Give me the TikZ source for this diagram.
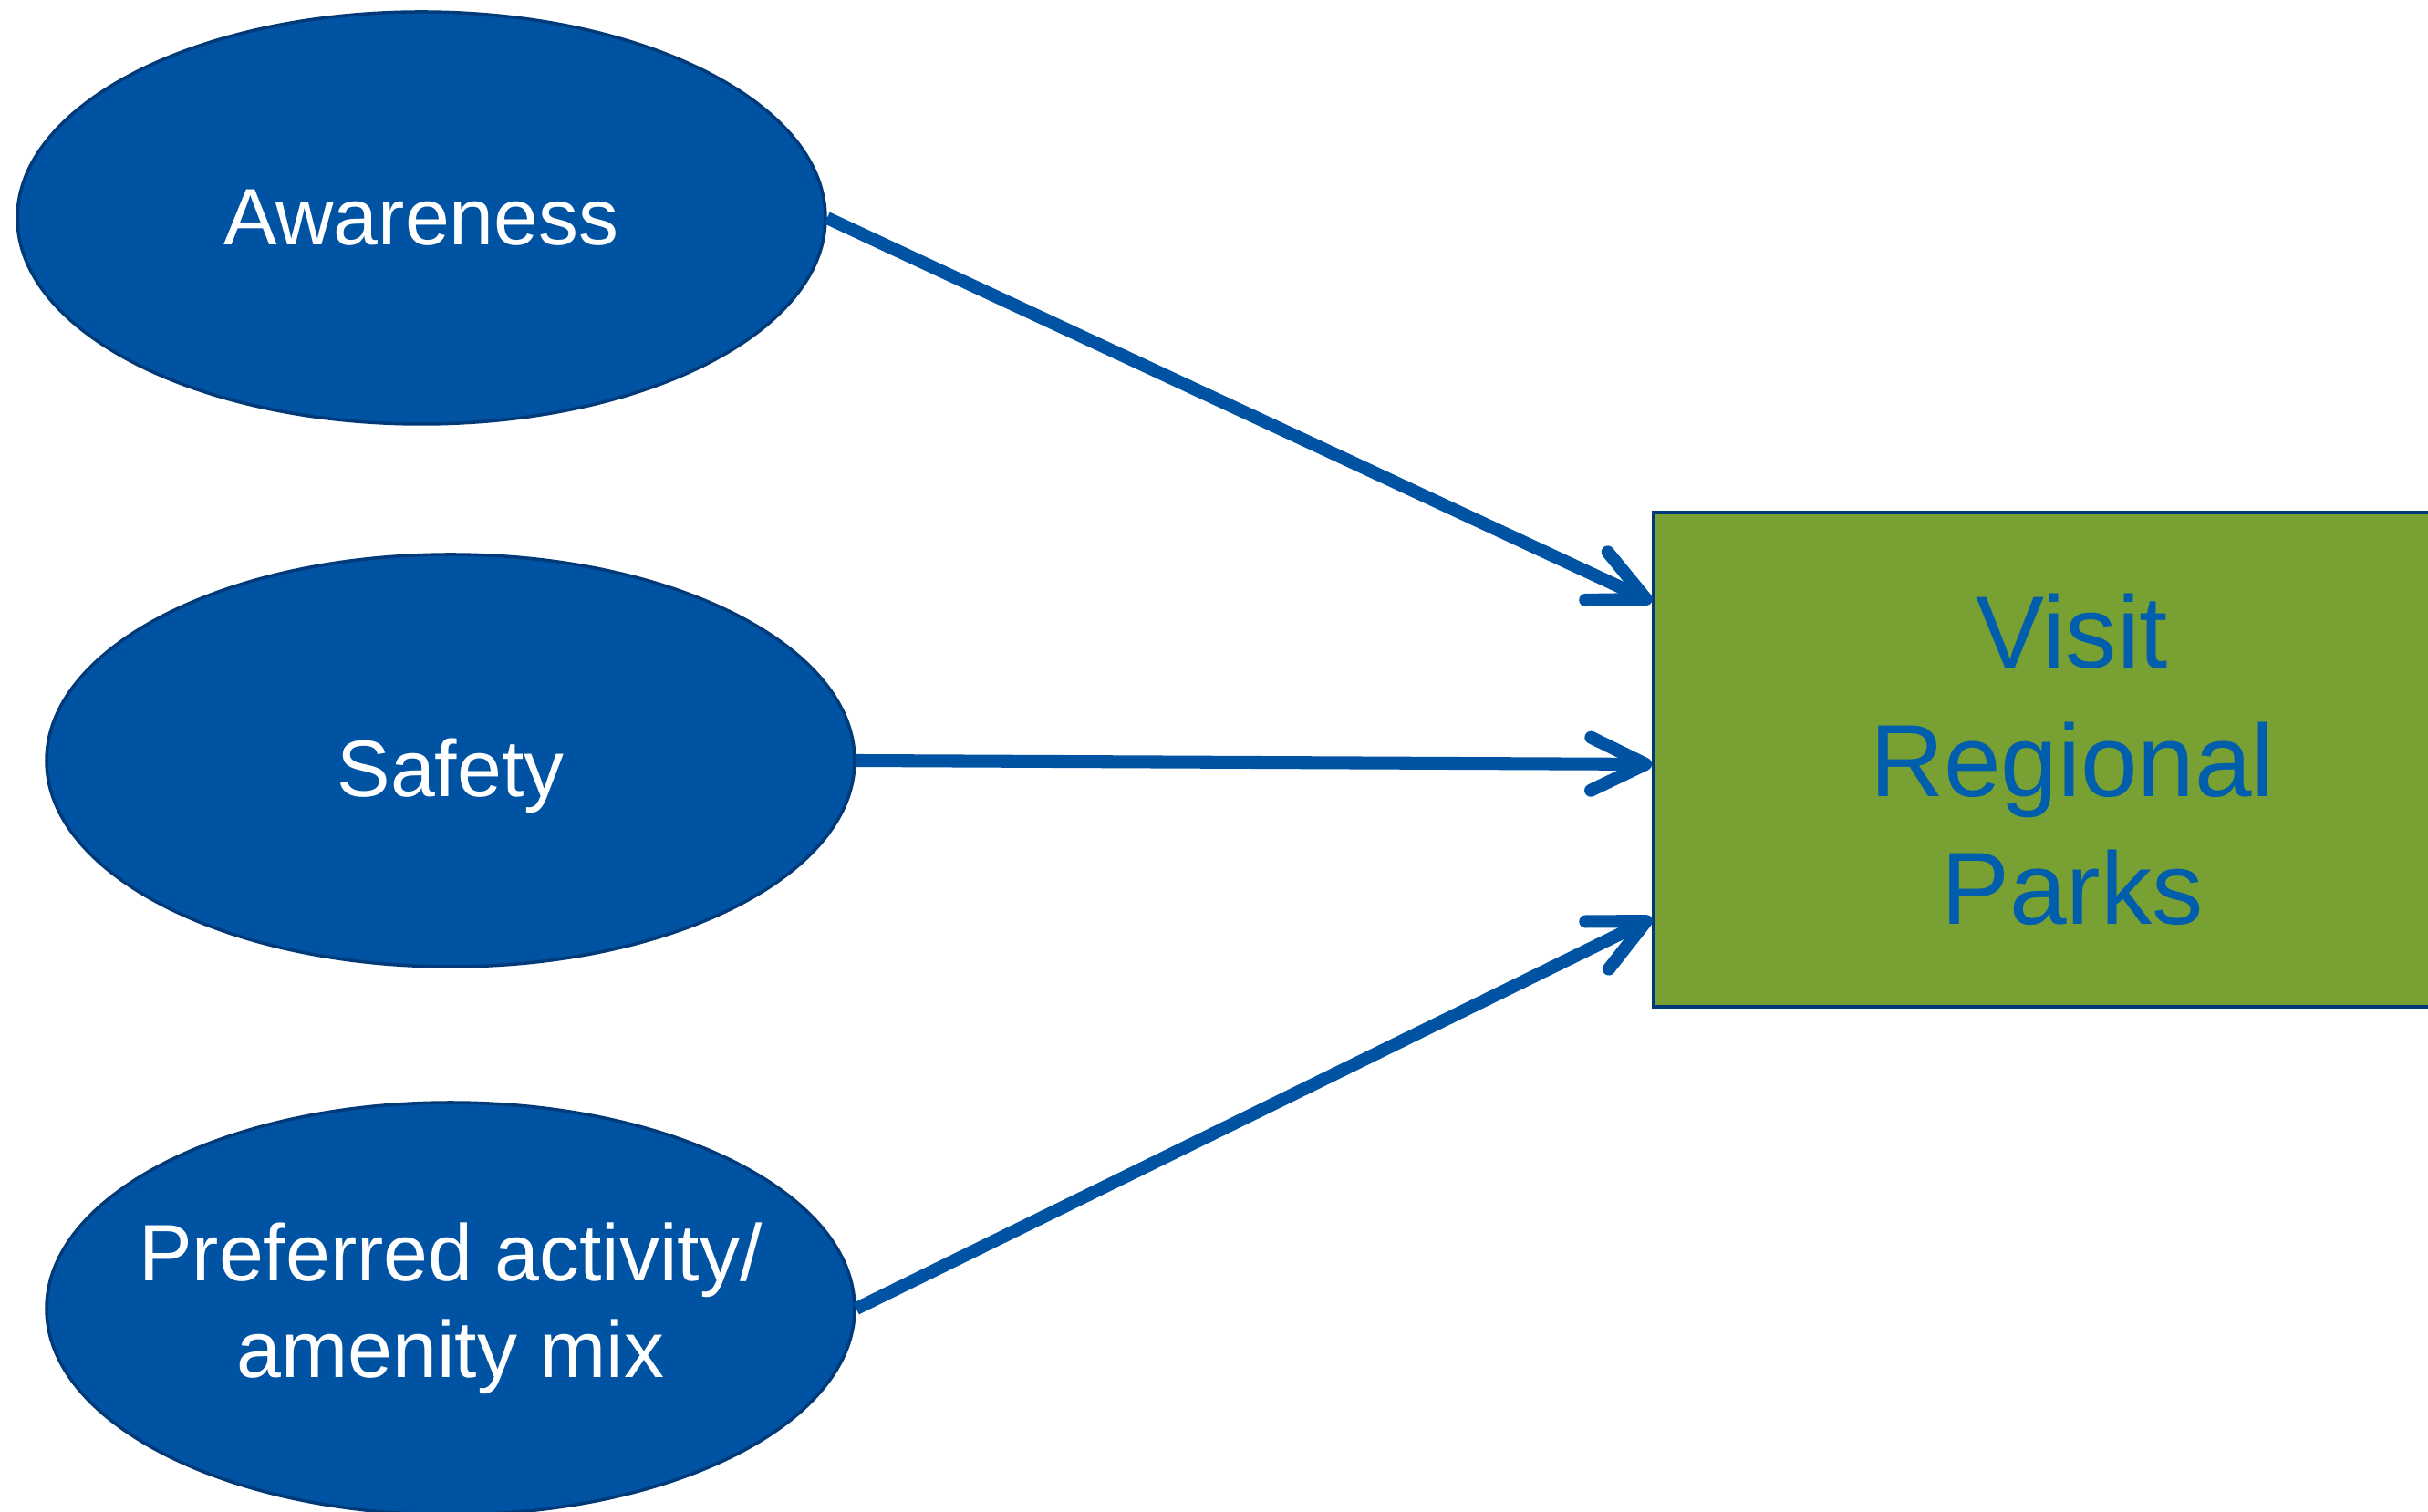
\documentclass[tikz,border=0pt]{standalone}
\usepackage[RGB]{xcolor}
\usepackage{fontspec}
\setmainfont{Liberation Sans}
\usetikzlibrary{shapes.geometric,arrows.meta}
\definecolor{F}{RGB}{0,82,162}
\definecolor{B}{RGB}{0,58,120}
\definecolor{G}{RGB}{120,160,50}
\definecolor{T}{RGB}{0,94,172}
\tikzset{
  factor/.style={ellipse, fill=F, draw=B, line width=1pt, minimum width=8.86cm, minimum height=4.52cm},
  factortext/.style={text=white, align=center, font=\fontsize{25}{30}\selectfont},
  outcome/.style={rectangle, fill=G, draw=B, line width=1pt, minimum width=9.18cm, minimum height=5.42cm,
    text=T, align=center, font=\fontsize{32}{40}\selectfont}
}
\newcommand{\drawlink}{\draw[line width=4pt, F, -{Straight Barb[length=6mm,width=5.8mm,round]}]}

\begin{document}
\begin{tikzpicture}
\useasboundingbox (0,0) rectangle (26.62,16.57);
\clip (0,0) rectangle (26.62,16.57);
% factors
\node[factor] (aw) at (4.62,14.18) {};
\node[factor] (sf) at (4.94,8.23) {};
\node[factor] (pa) at (4.94,2.22) {};
\node[factortext] (awtext) at (aw) {Awareness};
\node[factortext, yshift=-0.17cm] (sftext) at (sf) {Safety};
\node[factortext] (patext) at (pa) {Preferred activity/\\amenity mix};
% outcome
\node[outcome] (park) at (22.72,8.24) {Visit\\Regional\\Parks};
\drawlink (aw.east) -- ([yshift=1.73cm]park.west);
\drawlink (sf.east) -- ([yshift=-0.05cm]park.west);
\drawlink (pa.east) -- ([yshift=-1.74cm]park.west);
\end{tikzpicture}
\end{document}
